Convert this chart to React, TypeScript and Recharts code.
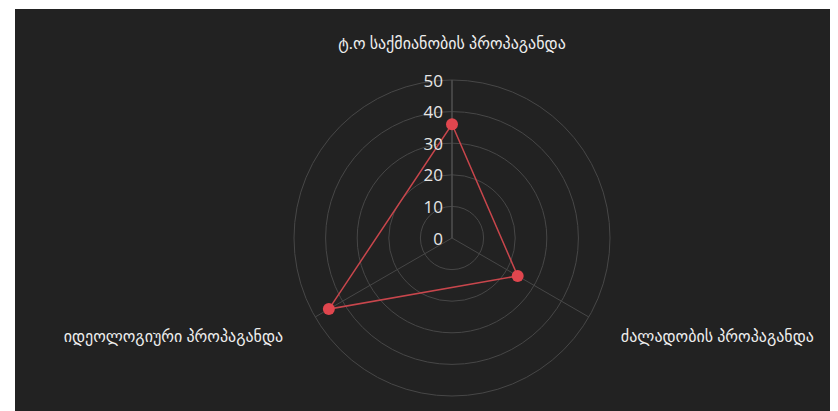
import { RadarChart, Radar, PolarGrid, PolarAngleAxis, PolarRadiusAxis } from "recharts";

const categories = [
  "ტ.ო საქმიანობის პროპაგანდა",
  "ძალადობის პროპაგანდა",
  "იდეოლოგიური პროპაგანდა",
];
const values = [36, 24, 45];
const radiusTicks = [0, 10, 20, 30, 40, 50];

const data = categories.map((name, i) => ({ name, value: values[i] }));

const CX = 437;
const CY = 229;
const FONT = "'Open Sans', 'DejaVu Sans', sans-serif";

function AngleTick(props: any) {
  const { x, y, payload, textAnchor } = props;
  const dx = x - CX;
  const dy = y - CY;
  const len = Math.sqrt(dx * dx + dy * dy) || 1;
  const off = 29;
  return (
    <text
      x={x + (dx / len) * off}
      y={y + (dy / len) * off}
      textAnchor={textAnchor}
      dominantBaseline="central"
      fill="#eeeeee"
      fontSize={16}
      fontFamily={FONT}
    >
      {payload.value}
    </text>
  );
}

function RadiusTick(props: any) {
  const { x, y, payload } = props;
  return (
    <text
      x={x - 9}
      y={y}
      textAnchor="end"
      dominantBaseline="central"
      fill="#e6e6e6"
      fontSize={17}
      fontFamily={FONT}
    >
      {payload.value}
    </text>
  );
}

export default function App() {
  return (
    <div style={{ marginLeft: 7, marginTop: 1, width: 822, height: 402, background: "#222222" }}>
      <RadarChart width={822} height={402} cx={CX} cy={CY} outerRadius={158} data={data}>
        <PolarGrid gridType="circle" stroke="#474747" />
        <PolarAngleAxis dataKey="name" tick={AngleTick} tickLine={false} axisLine={false} />
        <PolarRadiusAxis
          angle={90}
          domain={[0, 50]}
          ticks={radiusTicks as any}
          tickCount={6}
          tick={RadiusTick}
          axisLine={{ stroke: "#555555" }}
        />
        <Radar
          dataKey="value"
          stroke="#c8464c"
          strokeWidth={1.5}
          fill="none"
          fillOpacity={0}
          dot={{ r: 6, fill: "#e0464e", stroke: "#e0464e", strokeWidth: 0, fillOpacity: 1 }}
          isAnimationActive={false}
        />
      </RadarChart>
    </div>
  );
}
